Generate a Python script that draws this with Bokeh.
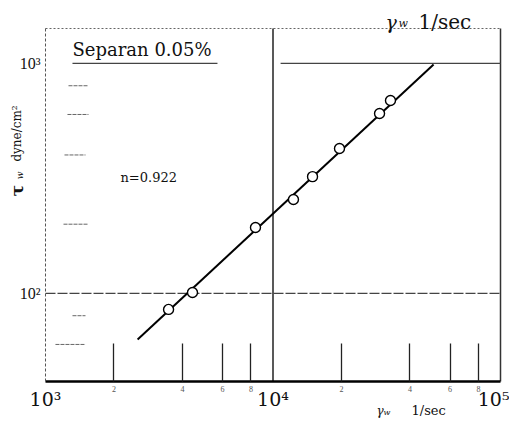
import math
from bokeh.plotting import figure
from bokeh.models import Label, FixedTicker, CustomJSTickFormatter, LogAxis
from bokeh.embed import file_html
from bokeh.resources import INLINE

# ---- data ----
shear_rate = [3475, 4427, 8375, 12300, 14920, 19600, 29400, 32840]      # 1/sec
shear_stress = [85.2, 101, 193.6, 256, 322, 427, 606, 690]              # dyne/cm2
fit_rate = [2540, 50800]
fit_stress = [63.1, 990]

x_minor_ticks = [2e3, 4e3, 6e3, 8e3, 2e4, 4e4, 6e4, 8e4]
x_minor_labels = ["2", "4", "6", "8", "2", "4", "6", "8"]
x_decade_ticks = [1e3, 1e4, 1e5]
x_decade_labels = ["10³", "10⁴", "10⁵"]
y_decade_ticks = [1e2, 1e3]
y_decade_labels = ["10²", "10³"]

# plotted box (data limits of the drawn frame)
X_LO, X_HI = 1e3, 1e5
Y_LO, Y_HI = 41.4, 1419

# short grid dashes near the left axis
y_dash_values = [60, 80, 200, 400, 600, 800]
y_dash_start = [1106, 1314, 1200, 1212, 1249, 1262]
y_dash_end = [1499, 1499, 1545, 1499, 1545, 1545]

# the broken 10^3 line
top_line_start = [1314, 10800]
top_line_end = [5700, X_HI]

# ---- layout (pixels) ----
W, H = 509, 421
BOX_LEFT, BOX_RIGHT, BOX_TOP, BOX_BOTTOM = 45, 500, 28, 381
PPD_X = (BOX_RIGHT - BOX_LEFT) / math.log10(X_HI / X_LO)
PPD_Y = (BOX_BOTTOM - BOX_TOP) / math.log10(Y_HI / Y_LO)
x_start = X_LO * 10 ** (-BOX_LEFT / PPD_X)
x_end = X_HI * 10 ** ((W - BOX_RIGHT) / PPD_X)
y_start = Y_LO * 10 ** (-(H - BOX_BOTTOM) / PPD_Y)
y_end = Y_HI * 10 ** (BOX_TOP / PPD_Y)

SERIF = "DejaVu Serif"
TIMES = "Liberation Serif"

p = figure(width=W, height=H, x_axis_type="log", y_axis_type="log",
           x_range=(x_start, x_end), y_range=(y_start, y_end),
           output_backend="svg", toolbar_location=None,
           min_border_left=0, min_border_right=0, min_border_top=0, min_border_bottom=0)
p.grid.visible = False
p.background_fill_color = "white"
p.border_fill_color = "white"
p.outline_line_color = None

LOOKUP = ("var best = 0; for (var i = 1; i < tick_values.length; i++) { "
          "if (Math.abs(Math.log(tick_values[i] / tick)) < Math.abs(Math.log(tick_values[best] / tick))) best = i; } "
          "return tick_labels[best];")

def fmt(tick_values, tick_labels):
    return CustomJSTickFormatter(args=dict(tick_values=tick_values, tick_labels=tick_labels), code=LOOKUP)

def bare(axis):
    axis.axis_line_color = None
    axis.major_tick_line_color = None
    axis.minor_tick_line_color = None
    axis.major_tick_in = 0
    axis.major_tick_out = 0
    axis.minor_tick_in = 0
    axis.minor_tick_out = 0

# main x axis on the bottom edge of the box: inward tick lines at 2,4,6,8
xa = p.xaxis[0]
xa.fixed_location = Y_LO
xa.bounds = (X_LO, X_HI)
xa.ticker = FixedTicker(ticks=x_minor_ticks)
xa.formatter = fmt(x_minor_ticks, x_minor_labels)
xa.major_tick_in = 38
xa.major_tick_out = 0
xa.major_tick_line_width = 1.3
xa.major_tick_line_color = "#222222"
xa.minor_tick_line_color = None
xa.axis_line_width = 2.5
xa.axis_line_color = "black"
xa.major_label_text_font = TIMES
xa.major_label_text_font_size = "8px"
xa.major_label_text_color = "#555555"
xa.major_label_standoff = 4

# decade labels of the x axis
xd = LogAxis(ticker=FixedTicker(ticks=x_decade_ticks), formatter=fmt(x_decade_ticks, x_decade_labels))
bare(xd)
xd.fixed_location = Y_LO
xd.major_label_text_font = SERIF
xd.major_label_text_font_size = "19px"
xd.major_label_text_color = "#111111"
xd.major_label_standoff = 6
p.add_layout(xd, "below")

# y axis on the left edge of the box
ya = p.yaxis[0]
ya.fixed_location = X_LO
ya.bounds = (Y_LO, Y_HI)
ya.ticker = FixedTicker(ticks=y_decade_ticks)
ya.formatter = fmt(y_decade_ticks, y_decade_labels)
ya.major_tick_in = 0
ya.major_tick_out = 0
ya.minor_tick_line_color = None
ya.axis_line_color = "#555555"
ya.axis_line_dash = "3 2"
ya.axis_line_width = 1
ya.major_label_text_font = TIMES
ya.major_label_text_font_size = "16px"
ya.major_label_text_color = "#111111"
ya.major_label_standoff = 5

# box: top (dotted) and right edges, 10^4 vertical, 10^2 and 10^3 horizontals
p.segment(x0=[X_LO], y0=[Y_HI], x1=[X_HI], y1=[Y_HI], line_color="#666666", line_width=1, line_dash="2 2")
p.segment(x0=[X_HI], y0=[Y_LO], x1=[X_HI], y1=[Y_HI], line_color="#333333", line_width=1.5)
p.segment(x0=[1e4], y0=[Y_LO], x1=[1e4], y1=[Y_HI], line_color="#222222", line_width=1.5)
p.segment(x0=[X_LO], y0=[1e2], x1=[X_HI], y1=[1e2], line_color="#444444", line_width=1.1, line_dash="10 2")
p.segment(x0=top_line_start, y0=[1e3] * 2, x1=top_line_end, y1=[1e3] * 2,
          line_color="#444444", line_width=1.3)
p.segment(x0=y_dash_start, y0=y_dash_values, x1=y_dash_end, y1=y_dash_values,
          line_color="#666666", line_width=1, line_dash="4 1")

# fitted line and data
p.line(fit_rate, fit_stress, line_color="black", line_width=2)
p.scatter(shear_rate, shear_stress, marker="circle", size=10, fill_color="white",
          line_color="black", line_width=1.4)

def lab(text, px, py, size, align="left", angle=0.0, style="normal", color="#111111", baseline="middle"):
    # texts placed by picture pixels (frame covers the whole canvas)
    p.add_layout(Label(x=px, y=H - py, x_units="screen", y_units="screen",
                       text=text, text_font=SERIF, text_font_size=f"{size}px",
                       text_align=align, text_baseline=baseline, angle=angle,
                       text_font_style=style, text_color=color))

lab("Separan 0.05%", 72, 49, 18)
lab("n=0.922", 120, 177, 13)
# top title
lab("γ", 385, 21, 19, style="italic", baseline="alphabetic")
lab("w", 398, 23, 11, style="italic", baseline="alphabetic")
lab("1/sec", 418, 21, 20, baseline="alphabetic")
# x title
lab("γ", 376, 410, 12, style="italic", baseline="alphabetic")
lab("w", 383, 412, 8, style="italic", baseline="alphabetic")
lab("1/sec", 411, 410, 13, baseline="alphabetic")
# y title (rotated)
lab("τ", 16, 190, 17, align="center", angle=math.pi / 2, style="bold")
lab("w", 19, 175, 9, align="center", angle=math.pi / 2, style="italic")
lab("dyne/cm²", 16, 133, 12, align="center", angle=math.pi / 2)

open("out.html", "w").write(file_html(p, INLINE))
